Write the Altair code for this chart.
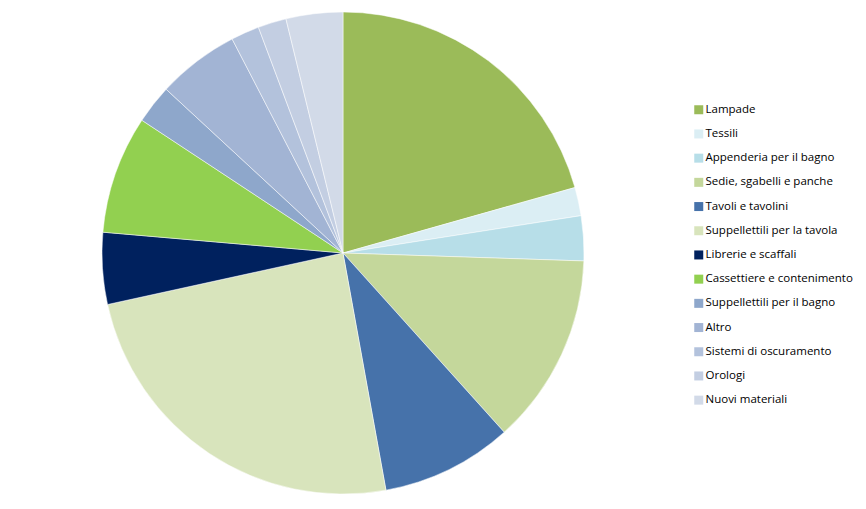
import altair as alt
import pandas as pd

categories = ["Lampade", "Tessili", "Appenderia per il bagno", "Sedie, sgabelli  e panche",
              "Tavoli e tavolini", "Suppellettili per la tavola", "Librerie e scaffali",
              "Cassettiere e contenimento", "Suppellettili per il bagno", "Altro",
              "Sistemi di oscuramento", "Orologi", "Nuovi materiali"]
values = [20.6, 1.9, 3.0, 12.8, 8.8, 24.4, 4.8, 7.9, 2.6, 5.5, 1.9, 1.9, 3.8]
colors = ["#9BBB59", "#DBEEF4", "#B7DEE8", "#C4D79B", "#4672AA", "#D8E4BC", "#00215E",
          "#92D050", "#8EA7CB", "#A2B4D4", "#B3C2DC", "#C3CEE2", "#D2DAE8"]

df = pd.DataFrame({"cat": categories, "val": values, "ord": list(range(len(categories)))})

chart = alt.Chart(df).mark_arc(radius=241, stroke="white", strokeWidth=0.5).encode(
    theta=alt.Theta("val:Q", stack=True),
    order=alt.Order("ord:Q"),
    color=alt.Color("cat:N", sort=categories,
                    scale=alt.Scale(domain=categories, range=colors),
                    legend=alt.Legend(title=None, orient="none", legendX=685, legendY=96,
                                      symbolType="square", symbolSize=81, symbolStrokeWidth=0,
                                      labelFontSize=11.5, labelFont="Open Sans", labelColor="#000000",
                                      rowPadding=11.2, labelOffset=1, labelLimit=300)),
    x=alt.value(335),
    y=alt.value(245),
).properties(width=850, height=493, padding=0, autosize="none").configure_view(stroke=None)

chart.save("out.html", embed_options={"renderer": "svg", "actions": False})
